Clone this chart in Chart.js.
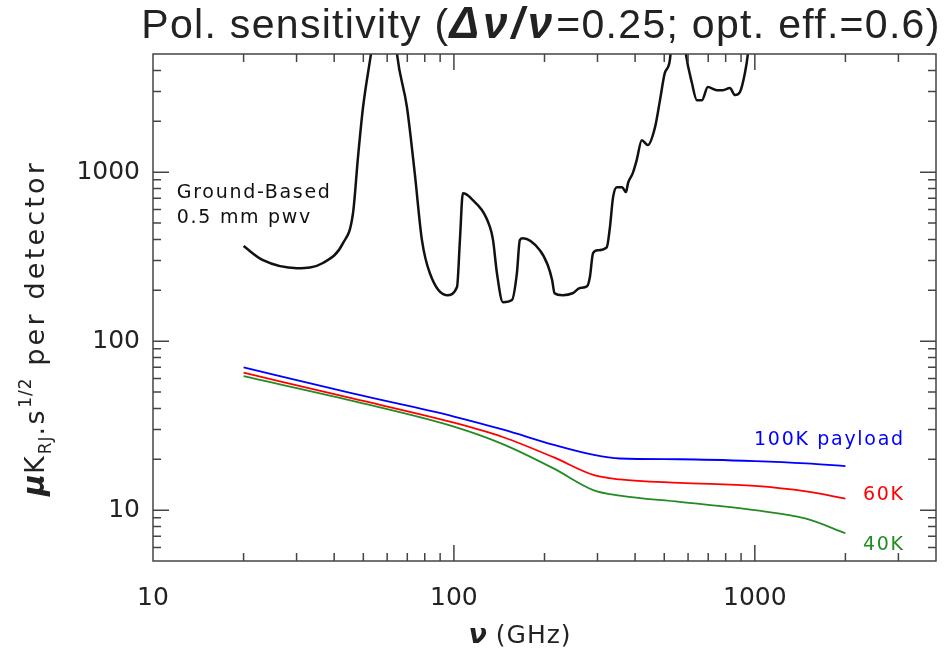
<!DOCTYPE html>
<html>
<head>
<meta charset="utf-8">
<script src="https://cdn.jsdelivr.net/npm/chart.js@4.4.0/dist/chart.umd.min.js"></script>
<style>
  html, body { margin: 0; padding: 0; background: #fff; }
</style>
</head>
<body>
<canvas id="myChart" width="945" height="653"></canvas>
<script>
// ground-based sensitivity, 0.5 mm pwv (GHz, uK_RJ s^1/2)
var groundFreq = [20, 23.2, 30.1, 36.7, 42.8, 46.2, 48, 49.9, 53, 57, 59.5, 62, 64.7, 69.8, 74.1, 78.3, 83.2, 94.8, 102.4, 104.7,
	107.1, 113, 131.8, 134.9, 139, 145.5, 155.9, 161.9, 165.6, 169.5, 193, 205, 212, 216, 230, 248, 262, 277, 283, 290,
	301, 322, 330, 338, 348, 362, 373, 379, 393, 405, 421, 441, 466, 484, 502, 522, 535, 556, 572, 590,
	618, 642, 667, 698, 748, 783, 826, 859, 892, 927, 948, 1000];
var groundSens = [365, 301, 270, 290, 380, 571, 1227, 2428, 4990, 12000, 18000, 12000, 4990, 2428, 986, 396, 252, 187, 209, 396,
	751, 711, 473, 396, 252, 170, 175, 252, 396, 406, 345, 282, 230, 192, 187, 192, 206, 211, 239, 332,
	345, 359, 473, 711, 815, 815, 762, 861, 986, 1178, 1545, 1446, 1846, 2667, 3855, 4607, 8000, 20000, 8000, 4990,
	3365, 2667, 2667, 3187, 3055, 3055, 3141, 2858, 2972, 3855, 4990, 15000];

// space payload curves
var payloadFreq = [20, 46, 100, 146, 215, 292, 356, 563, 1000, 1480, 2000];
var sens100K = [70, 49, 35.8, 29.9, 24.3, 21.2, 20.2, 20.0, 19.5, 18.9, 18.2];
var sens60K  = [65, 45.8, 32.9, 27.0, 20.5, 16.1, 15.2, 14.5, 13.9, 12.9, 11.7];
var sens40K  = [62, 44.3, 31.2, 24.5, 17.6, 13.1, 12.2, 11.2, 10.0, 8.9, 7.3];

var xTicks = [10, 100, 1000];
var yTicks = [10, 100, 1000];

function pts(xs, ys) {
	var out = [];
	for (var i = 0; i < xs.length; i++) out.push({x: xs[i], y: ys[i]});
	return out;
}

var textFont = '19px "DejaVu Sans"';

// draw a run of text pieces with their own fonts / baseline shifts, centred on x
function drawRich(ctx, parts, x, y) {
	var w = 0, i;
	for (i = 0; i < parts.length; i++) {
		ctx.font = parts[i].f;
		ctx.letterSpacing = (parts[i].ls || 0) + 'px';
		parts[i].w = ctx.measureText(parts[i].t).width;
		w += parts[i].w;
	}
	var cx = x - w / 2;
	ctx.textAlign = 'left';
	ctx.textBaseline = 'alphabetic';
	for (i = 0; i < parts.length; i++) {
		ctx.font = parts[i].f;
		ctx.letterSpacing = (parts[i].ls || 0) + 'px';
		ctx.fillText(parts[i].t, cx, y + (parts[i].dy || 0));
		cx += parts[i].w;
	}
	ctx.letterSpacing = '0px';
}

var decor = {
	id: 'decor',
	afterDraw: function(chart) {
		var ctx = chart.ctx, a = chart.chartArea;
		var xs = chart.scales.x, ys = chart.scales.y;
		ctx.save();
		ctx.strokeStyle = '#444';
		ctx.lineWidth = 1.5;
		ctx.strokeRect(a.left, a.top, a.right - a.left, a.bottom - a.top);
		// inward ticks on all four sides
		ctx.beginPath();
		for (var d = 1; d <= 10000; d *= 10) {
			for (var m = 1; m < 10; m++) {
				var v = d * m, len = (m == 1) ? 16 : 8, p;
				if (v > xs.min && v < xs.max) {
					p = xs.getPixelForValue(v);
					ctx.moveTo(p, a.bottom); ctx.lineTo(p, a.bottom - len);
					ctx.moveTo(p, a.top); ctx.lineTo(p, a.top + len);
				}
				if (v > ys.min && v < ys.max) {
					p = ys.getPixelForValue(v);
					ctx.moveTo(a.left, p); ctx.lineTo(a.left + len, p);
					ctx.moveTo(a.right, p); ctx.lineTo(a.right - len, p);
				}
			}
		}
		ctx.stroke();

		ctx.fillStyle = '#222';
		// title
		drawRich(ctx, [
			{t: 'Pol. sensitivity (', f: '41px "Liberation Sans"', ls: 1.3},
			{t: '\u0394\u03bd/\u03bd', f: 'italic bold 44px "Liberation Sans"', ls: 4},
			{t: '=0.25; opt. eff.=0.6)', f: '41px "Liberation Sans"', ls: 1.3}
		], 541, 38);

		// x title
		drawRich(ctx, [
			{t: '\u03bd', f: 'italic bold 27px "DejaVu Sans"'},
			{t: ' (GHz)', f: '25px "DejaVu Sans"', ls: 1}
		], 520, 643);

		// y title (rotated)
		ctx.save();
		ctx.translate(44, 328);
		ctx.rotate(-Math.PI / 2);
		drawRich(ctx, [
			{t: '\u03bc', f: 'italic bold 30px "DejaVu Sans"'},
			{t: 'K', f: '27px "DejaVu Sans"', ls: 2},
			{t: 'RJ', f: '17px "DejaVu Sans"', dy: 7, ls: 1},
			{t: '.s', f: '27px "DejaVu Sans"', ls: 2.5},
			{t: '1/2', f: '17px "DejaVu Sans"', dy: -13, ls: 1},
			{t: ' per detector', f: '27px "DejaVu Sans"', ls: 3.2}
		], 0, 0);
		ctx.restore();

		// curve labels, placed in data coordinates
		ctx.font = textFont;
		ctx.letterSpacing = '1.7px';
		ctx.textAlign = 'left';
		ctx.fillStyle = '#111';
		ctx.fillText('Ground-Based', xs.getPixelForValue(12), ys.getPixelForValue(702));
		ctx.fillText('0.5 mm pwv', xs.getPixelForValue(12), ys.getPixelForValue(499));
		ctx.textAlign = 'right';
		ctx.fillStyle = '#0000ff';
		ctx.fillText('100K payload', xs.getPixelForValue(3150), ys.getPixelForValue(24.3));
		ctx.fillStyle = '#ff0000';
		ctx.fillText('60K', xs.getPixelForValue(3150), ys.getPixelForValue(11.5));
		ctx.fillStyle = '#228b22';
		ctx.fillText('40K', xs.getPixelForValue(3150), ys.getPixelForValue(5.8));
		ctx.letterSpacing = '0px';
		ctx.restore();
	}
};

function lineSet(label, data, color, width) {
	return {
		label: label,
		data: data,
		borderColor: color,
		borderWidth: width,
		pointRadius: 0,
		fill: false,
		cubicInterpolationMode: 'monotone',
		clip: 0
	};
}

var ctx = document.getElementById("myChart");
var myChart = new Chart(ctx, {
	type: 'line',
	data: {
		datasets: [
			lineSet('Ground-Based 0.5 mm pwv', pts(groundFreq, groundSens), '#111', 2.5),
			lineSet('100K payload', pts(payloadFreq, sens100K), '#0000ff', 1.8),
			lineSet('60K', pts(payloadFreq, sens60K), '#ff0000', 1.8),
			lineSet('40K', pts(payloadFreq, sens40K), '#228b22', 1.8)
		]
	},
	options: {
		responsive: false,
		animation: false,
		events: [],
		layout: { padding: { left: 0, top: 54, right: 9, bottom: 0 } },
		plugins: {
			legend: { display: false },
			title: { display: false },
			tooltip: { enabled: false }
		},
		scales: {
			x: {
				type: 'logarithmic',
				min: 10,
				max: 4000,
				grid: { display: false, drawTicks: false },
				border: { display: false },
				afterBuildTicks: function(s) { s.ticks = xTicks.map(function(v) { return {value: v}; }); },
				afterFit: function(s) { s.height = 92; },
				ticks: {
					autoSkip: false, maxRotation: 0, padding: 22,
					color: '#222', font: { family: 'DejaVu Sans', size: 25 },
					callback: function(v) { return String(v); }
				}
			},
			y: {
				type: 'logarithmic',
				min: 5,
				max: 5000,
				grid: { display: false, drawTicks: false },
				border: { display: false },
				afterBuildTicks: function(s) { s.ticks = yTicks.map(function(v) { return {value: v}; }); },
				afterFit: function(s) { s.width = 153; },
				ticks: {
					autoSkip: false, padding: 13,
					color: '#222', font: { family: 'DejaVu Sans', size: 25 },
					callback: function(v) { return String(v); }
				}
			}
		}
	},
	plugins: [decor]
});
</script>
</body>
</html>
